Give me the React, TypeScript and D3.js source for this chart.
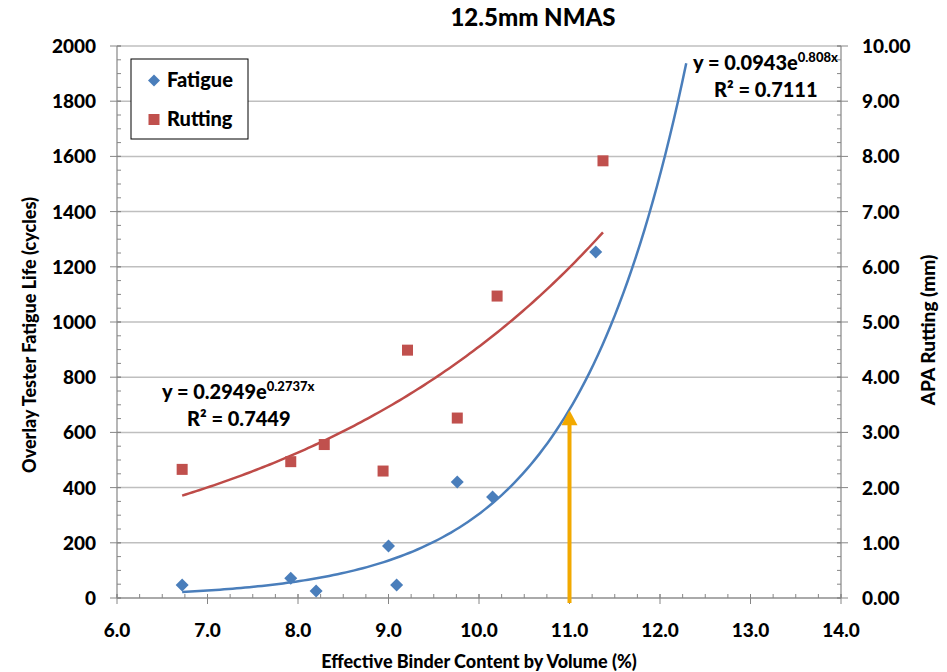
import React from "react";
import * as d3 from "d3";

const fatigueX = [6.72, 7.92, 8.2, 9.0, 9.09, 9.76, 10.15, 11.29];
const fatigueY = [47, 72, 25, 188, 47, 420, 366, 1254];
const ruttingX = [6.72, 7.92, 8.29, 8.94, 9.21, 9.76, 10.2, 11.37];
const ruttingY = [2.33, 2.47, 2.78, 2.3, 4.49, 3.26, 5.47, 7.92];
const fatigueFit = { a: 0.0943, b: 0.808, x0: 6.72, x1: 12.29 };
const ruttingFit = { a: 0.2949, b: 0.2737, x0: 6.72, x1: 11.37 };
const xTicks = [6, 7, 8, 9, 10, 11, 12, 13, 14];
const leftTicks = [0, 200, 400, 600, 800, 1000, 1200, 1400, 1600, 1800, 2000];
const rightTicks = [0, 1, 2, 3, 4, 5, 6, 7, 8, 9, 10];
const arrowX = 11.0;
const arrowTop = 680;

const W = 947, H = 672;
const L = 117, R = 841, T = 46, B = 598;
const FONT = "Lato, 'Open Sans', sans-serif";
const WT = 900;

export default function App() {
  const x = d3.scaleLinear().domain([6, 14]).range([L, R]);
  const yl = d3.scaleLinear().domain([0, 2000]).range([B, T]);
  const yr = d3.scaleLinear().domain([0, 10]).range([B, T]);

  const fitPath = (f: { a: number; b: number; x0: number; x1: number }, ys: d3.ScaleLinear<number, number>) => {
    const n = 120;
    const pts: [number, number][] = d3.range(n + 1).map((i) => {
      const xv = f.x0 + ((f.x1 - f.x0) * i) / n;
      return [x(xv), ys(f.a * Math.exp(f.b * xv))];
    });
    return d3.line()(pts) || "";
  };

  const minorX = d3.range(6, 14.001, 0.25);
  const minorL = d3.range(0, 2000.1, 50);
  const minorR = d3.range(0, 10.001, 0.25);
  const axisColor = "#868686";
  const gridColor = "#BFBFBF";
  const blue = "#4A7EBB";
  const red = "#C0504D";
  const orange = "#F2A900";
  const ax = x(arrowX);
  const atop = yl(arrowTop);

  return (
    <svg width={W} height={H} style={{ position: "absolute", left: 0, top: 0, background: "#fff" }} fontFamily={FONT} fontWeight={WT}>
      <rect x={0} y={0} width={W} height={H} fill="#fff" />
      {leftTicks.map((t) => (
        <line key={"g" + t} x1={L} x2={R} y1={yl(t)} y2={yl(t)} stroke={gridColor} strokeWidth={1.5} />
      ))}
      <line x1={L} x2={R} y1={B} y2={B} stroke={axisColor} strokeWidth={1.2} />
      <line x1={L} x2={L} y1={T} y2={B} stroke={axisColor} strokeWidth={1.2} />
      <line x1={R} x2={R} y1={T} y2={B} stroke={axisColor} strokeWidth={1.2} />
      {minorX.map((t) => (
        <line key={"mx" + t} x1={x(t)} x2={x(t)} y1={B - 4} y2={B} stroke={axisColor} />
      ))}
      {xTicks.map((t) => (
        <line key={"xx" + t} x1={x(t)} x2={x(t)} y1={B - 4} y2={B + 6} stroke={axisColor} />
      ))}
      {minorL.map((t) => (
        <line key={"ml" + t} x1={L} x2={L + 4} y1={yl(t)} y2={yl(t)} stroke={axisColor} />
      ))}
      {leftTicks.map((t) => (
        <line key={"lt" + t} x1={L - 7} x2={L + 4} y1={yl(t)} y2={yl(t)} stroke={axisColor} />
      ))}
      {minorR.map((t) => (
        <line key={"mr" + t} x1={R - 4} x2={R} y1={yr(t)} y2={yr(t)} stroke={axisColor} />
      ))}
      {rightTicks.map((t) => (
        <line key={"rt" + t} x1={R - 4} x2={R + 7} y1={yr(t)} y2={yr(t)} stroke={axisColor} />
      ))}
      {xTicks.map((t) => (
        <text key={"xl" + t} x={x(t)} y={637} textAnchor="middle" fontSize={19}>
          {t.toFixed(1)}
        </text>
      ))}
      {leftTicks.map((t) => (
        <text key={"ll" + t} x={96} y={yl(t) + 7} textAnchor="end" fontSize={19}>
          {t}
        </text>
      ))}
      {rightTicks.map((t) => (
        <text key={"rl" + t} x={862} y={yr(t) + 7} textAnchor="start" fontSize={19}>
          {t.toFixed(2)}
        </text>
      ))}
      <text x={533} y={26} textAnchor="middle" fontSize={24}>12.5mm NMAS</text>
      <text x={479} y={668} textAnchor="middle" fontSize={18}>Effective Binder Content by Volume (%)</text>
      <text transform={`translate(36,335) rotate(-90)`} textAnchor="middle" fontSize={18}>
        Overlay Tester Fatigue Life (cycles)
      </text>
      <text transform={`translate(935,330) rotate(-90)`} textAnchor="middle" fontSize={19}>
        APA Rutting (mm)
      </text>
      <path d={fitPath(ruttingFit, yr)} fill="none" stroke="#BE4B48" strokeWidth={2.5} />
      <path d={fitPath(fatigueFit, yl)} fill="none" stroke={blue} strokeWidth={2.5} />
      {ruttingX.map((xv, i) => (
        <rect key={"r" + i} x={x(xv) - 5.5} y={yr(ruttingY[i]) - 5.5} width={11} height={11} fill={red} />
      ))}
      {fatigueX.map((xv, i) => {
        const cx = x(xv), cy = yl(fatigueY[i]);
        return <path key={"f" + i} d={`M${cx},${cy - 6.5}L${cx + 6.5},${cy}L${cx},${cy + 6.5}L${cx - 6.5},${cy}Z`} fill={blue} />;
      })}
      <line x1={ax} x2={ax} y1={B + 5} y2={atop + 14} stroke={orange} strokeWidth={4} />
      <path d={`M${ax},${atop}L${ax + 8},${atop + 15}L${ax - 8},${atop + 15}Z`} fill={orange} />
      <text x={162} y={399} fontSize={20}>
        y = 0.2949e<tspan dy={-8} fontSize={13}>0.2737x</tspan>
      </text>
      <text x={187} y={426} fontSize={20}>R² = 0.7449</text>
      <text x={693} y={70} fontSize={20}>
        y = 0.0943e<tspan dy={-8} fontSize={13}>0.808x</tspan>
      </text>
      <text x={714} y={97} fontSize={20}>R² = 0.7111</text>
      <rect x={131} y={59} width={117} height={80} fill="#fff" stroke="#000" strokeWidth={1} />
      <path d={`M154,74.5L160,80.5L154,86.5L148,80.5Z`} fill={blue} />
      <text x={167} y={87} fontSize={20}>Fatigue</text>
      <rect x={148.5} y={114} width={11} height={11} fill={red} />
      <text x={167} y={126} fontSize={20}>Rutting</text>
    </svg>
  );
}
